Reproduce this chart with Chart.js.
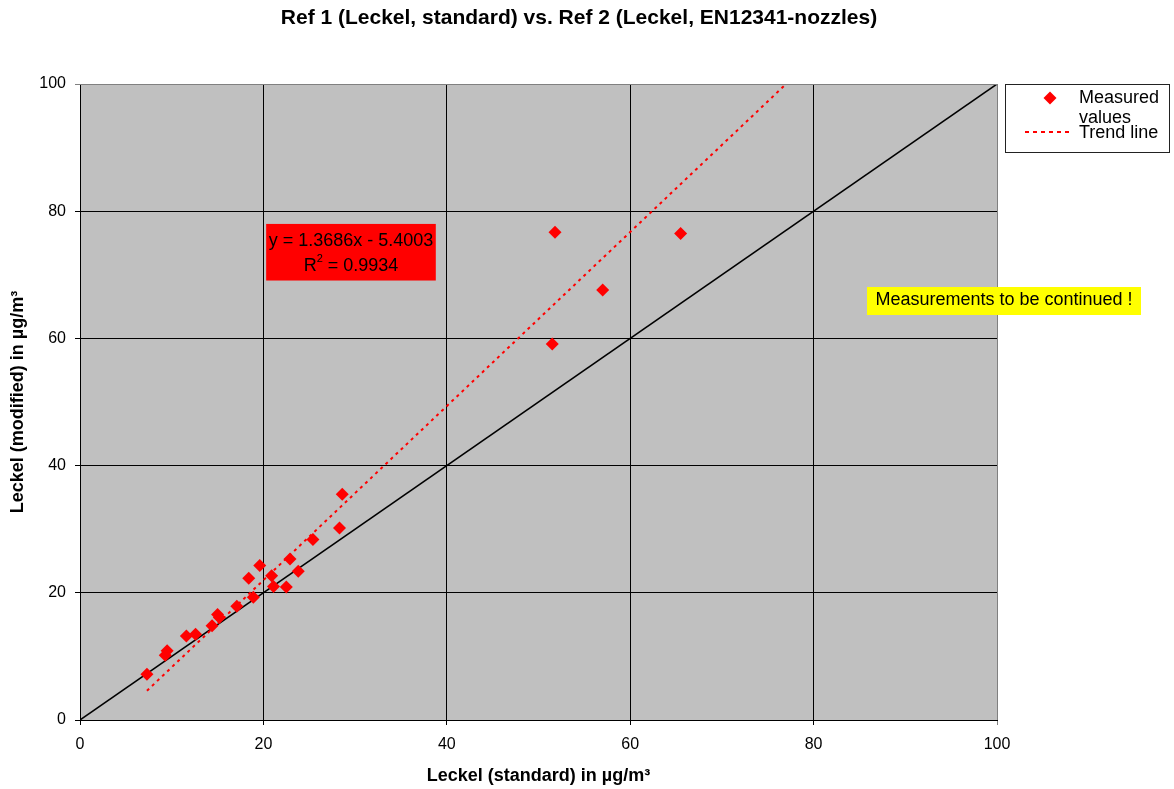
<!DOCTYPE html>
<html>
<head>
<meta charset="utf-8">
<script src="https://cdn.jsdelivr.net/npm/chart.js@4/dist/chart.umd.min.js"></script>
<style>
html,body{margin:0;padding:0;background:#fff;}
#wrap{width:1174px;height:789px;position:relative;}
</style>
</head>
<body>
<div id="wrap"><canvas id="c" width="1174" height="789"></canvas></div>
<script>
// Data
const chartTitle = 'Ref 1 (Leckel, standard) vs. Ref 2 (Leckel, EN12341-nozzles)';
const xAxisTitle = 'Leckel (standard) in µg/m³';
const yAxisTitle = 'Leckel (modified) in µg/m³';
const measuredX = [7.3, 9.5, 9.3, 11.6, 12.6, 14.4, 15.0, 15.2, 17.1, 18.9, 18.4, 19.6, 20.9, 21.1, 22.5, 22.9, 23.8, 25.4, 28.3, 28.6, 51.8, 65.5, 57.0, 51.5];
const measuredY = [7.2, 10.9, 10.2, 13.2, 13.5, 14.8, 16.6, 16.1, 17.9, 19.3, 22.3, 24.3, 22.7, 21.0, 20.9, 25.3, 23.4, 28.4, 30.2, 35.5, 76.7, 76.5, 67.6, 59.1];
const trendX = [7.3, 77.0];
const trendY = [4.6, 100];
const diagX = [0, 100];
const diagY = [0, 100];
const tickValues = [0, 20, 40, 60, 80, 100];
const legendLabels = ['Measured', 'values', 'Trend line'];
const equationLines = ['y = 1.3686x - 5.4003', '0.9934'];
const noteText = 'Measurements to be continued !';

const FONT = '"Liberation Sans", Arial, Helvetica, sans-serif';

const toPts = (xs, ys) => xs.map((x, i) => ({x: x, y: ys[i]}));

const decorPlugin = {
  id: 'decor',
  beforeDraw(chart) {
    const {ctx, chartArea: a} = chart;
    ctx.save();
    ctx.fillStyle = '#C0C0C0';
    ctx.fillRect(a.left, a.top, a.right - a.left, a.bottom - a.top);
    ctx.restore();
  },
  afterDatasetsDraw(chart) {
    const {ctx, chartArea: a} = chart;
    const xs = chart.scales.x, ys = chart.scales.y;
    ctx.save();
    ctx.strokeStyle = '#808080';
    ctx.lineWidth = 1;
    ctx.beginPath();
    ctx.moveTo(a.left, a.top + 0.5);
    ctx.lineTo(a.right + 0.5, a.top + 0.5);
    ctx.lineTo(a.right + 0.5, a.bottom);
    ctx.stroke();

    // Title
    ctx.fillStyle = '#000';
    ctx.font = 'bold 21px ' + FONT;
    ctx.textAlign = 'center';
    ctx.textBaseline = 'middle';
    ctx.fillText(chartTitle, 579, 18);

    // Equation box
    const ex0 = xs.getPixelForValue(20.3), ey0 = ys.getPixelForValue(78.0);
    const ex1 = xs.getPixelForValue(38.8), ey1 = ys.getPixelForValue(69.1);
    ctx.fillStyle = '#FF0000';
    ctx.fillRect(ex0, ey0, ex1 - ex0, ey1 - ey0);
    ctx.fillStyle = '#000';
    ctx.font = '18px ' + FONT;
    ctx.textAlign = 'center';
    const cx = (ex0 + ex1) / 2;
    ctx.fillText(equationLines[0], cx, ey0 + 17);
    const rw1 = ctx.measureText('R').width;
    const rest = ' = ' + equationLines[1];
    const rw2 = ctx.measureText(rest).width;
    ctx.font = '11px ' + FONT;
    const sw = ctx.measureText('2').width;
    const total = rw1 + sw + rw2;
    const sx = cx - total / 2;
    const ly = ey0 + 42;
    ctx.textAlign = 'left';
    ctx.font = '18px ' + FONT;
    ctx.fillText('R', sx, ly);
    ctx.font = '11px ' + FONT;
    ctx.fillText('2', sx + rw1, ly - 7);
    ctx.font = '18px ' + FONT;
    ctx.fillText(rest, sx + rw1 + sw, ly);

    // Yellow note
    ctx.fillStyle = '#FFFF00';
    ctx.fillRect(867, 287, 274, 28);
    ctx.fillStyle = '#000';
    ctx.font = '18px ' + FONT;
    ctx.textAlign = 'center';
    ctx.fillText(noteText, 1004, 300);

    // Legend
    ctx.fillStyle = '#fff';
    ctx.fillRect(1005.5, 84.5, 164, 68);
    ctx.strokeStyle = '#222';
    ctx.lineWidth = 1;
    ctx.strokeRect(1005.5, 84.5, 164, 68);
    ctx.fillStyle = '#FF0000';
    ctx.beginPath();
    ctx.moveTo(1050, 91.5);
    ctx.lineTo(1056.5, 98);
    ctx.lineTo(1050, 104.5);
    ctx.lineTo(1043.5, 98);
    ctx.closePath();
    ctx.fill();
    ctx.strokeStyle = '#FF0000';
    ctx.lineWidth = 2;
    ctx.setLineDash([4, 4]);
    ctx.beginPath();
    ctx.moveTo(1025, 132);
    ctx.lineTo(1072, 132);
    ctx.stroke();
    ctx.setLineDash([]);
    ctx.fillStyle = '#000';
    ctx.font = '18px ' + FONT;
    ctx.textAlign = 'left';
    ctx.fillText(legendLabels[0], 1079, 98);
    ctx.fillText(legendLabels[1], 1079, 118);
    ctx.fillText(legendLabels[2], 1079, 133);
    ctx.restore();
  }
};

new Chart(document.getElementById('c'), {
  type: 'scatter',
  data: {
    datasets: [
      {
        label: 'Diagonal',
        data: toPts(diagX, diagY),
        showLine: true,
        borderColor: '#000',
        borderWidth: 1.5,
        pointRadius: 0,
        order: 3
      },
      {
        label: 'Trend line',
        data: toPts(trendX, trendY),
        showLine: true,
        borderColor: '#FF0000',
        borderWidth: 2,
        borderDash: [3, 4],
        pointRadius: 0,
        order: 2
      },
      {
        label: 'Measured values',
        data: toPts(measuredX, measuredY),
        pointStyle: 'rectRot',
        pointRadius: 6.5,
        pointHoverRadius: 6.5,
        backgroundColor: '#FF0000',
        borderColor: '#FF0000',
        borderWidth: 0,
        order: 1
      }
    ]
  },
  options: {
    responsive: false,
    animation: false,
    events: [],
    layout: {padding: {top: 84, right: 177, left: 0, bottom: 0}},
    plugins: {legend: {display: false}, tooltip: {enabled: false}, title: {display: false}},
    scales: {
      x: {
        type: 'linear', min: 0, max: 100,
        afterFit(s) { s.height = 69; },
        afterBuildTicks(s) { s.ticks = tickValues.map(v => ({value: v})); },
        grid: {
          color: ctx => ctx.tick && ctx.tick.value === 100 ? '#808080' : '#000',
          lineWidth: 1, tickLength: 5, drawTicks: true
        },
        border: {color: '#000', width: 1},
        ticks: {color: '#000', font: {family: FONT, size: 16}, padding: 10, maxRotation: 0},
        title: {display: true, text: xAxisTitle, color: '#000', font: {family: FONT, size: 18, weight: 'bold'}, padding: {top: 0, bottom: 2}}
      },
      y: {
        type: 'linear', min: 0, max: 100,
        afterFit(s) { s.width = 80; },
        afterBuildTicks(s) { s.ticks = tickValues.map(v => ({value: v})); },
        grid: {
          color: ctx => ctx.tick && ctx.tick.value === 100 ? '#808080' : '#000',
          lineWidth: 1, tickLength: 5, drawTicks: true
        },
        border: {color: '#000', width: 1},
        ticks: {color: '#000', font: {family: FONT, size: 16}, padding: 9},
        title: {display: true, text: yAxisTitle, color: '#000', font: {family: FONT, size: 18, weight: 'bold'}, padding: {top: 7, bottom: 0}}
      }
    }
  },
  plugins: [decorPlugin]
});
</script>
</body>
</html>
